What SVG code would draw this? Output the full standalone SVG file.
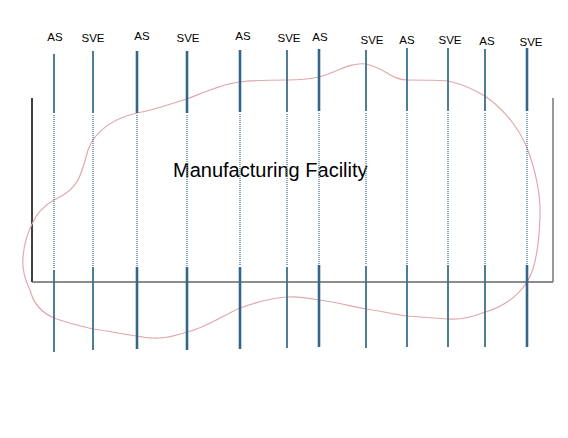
<svg xmlns="http://www.w3.org/2000/svg" width="568" height="438" viewBox="0 0 568 438">
<style>
.lbl{font-family:"Liberation Sans",Arial,sans-serif;font-size:11.5px;fill:#000;text-anchor:middle}
.title{font-family:"Liberation Sans",Arial,sans-serif;font-size:20px;fill:#000}
.s{stroke:#3c6e8c;stroke-width:1.8;fill:none}
.t{stroke:#35668a;stroke-width:2.6;fill:none}
.d{stroke:#5a88a3;stroke-width:1.5;stroke-dasharray:1 1;fill:none}
</style>
<rect width="568" height="438" fill="#fff"/>
<g id="building">
<line x1="32" y1="98" x2="32" y2="282" stroke="#000" stroke-width="1.5"/>
<line x1="32" y1="282" x2="553" y2="282" stroke="#666" stroke-width="1.5"/>
<line x1="553" y1="98" x2="553" y2="282" stroke="#777" stroke-width="1.5"/>
<text class="title" x="173" y="177">Manufacturing Facility</text>
</g>
<g id="plume">
<path d="M88,150 C95,130 115,118 137,113 C155,110 170,104 187,99 C205,92 222,84 240,82 C255,80 272,80 287,80 C300,80 310,79 319,77 C335,73 350,62 366,64 C385,68 392,80 407,80 C420,80 435,80 448,81 C462,84 475,90 485,96 C505,110 520,130 527,148 C535,168 541,195 540,217 C539,245 535,270 527,282 C517,298 500,308 485,312 C470,318 460,320 448,319 C435,318 420,317 407,316 C393,314 380,311 366,309 C350,306 335,302 319,300 C308,298 297,296 287,297 C270,298 255,303 240,308 C222,316 205,328 187,332 C175,336 163,339 153,338 C148,338 142,337 137,336 C122,334 108,331 93,329 C80,326 65,322 54,318 C40,312 33,302 30,290 C25,280 22,268 23,257 C24,245 28,232 32,224 C37,212 45,205 54,200 C65,195 74,188 78,180 C83,170 85,160 88,150 Z" fill="none" stroke="#e0a8ad" stroke-width="1.2"/>
</g>
<g id="well-1"><text class="lbl" x="55" y="41">AS</text><line class="s" x1="54" y1="54" x2="54" y2="113"/><line class="d" x1="54" y1="115" x2="54" y2="268"/><line class="s" x1="54" y1="270" x2="54" y2="352"/></g>
<g id="well-2"><text class="lbl" x="93" y="42">SVE</text><line class="s" x1="93" y1="51" x2="93" y2="113"/><line class="d" x1="93" y1="115" x2="93" y2="266"/><line class="s" x1="93" y1="267" x2="93" y2="350"/></g>
<g id="well-3"><text class="lbl" x="142" y="40">AS</text><line class="t" x1="137" y1="51" x2="137" y2="113"/><line class="d" x1="137" y1="115" x2="137" y2="266"/><line class="t" x1="137" y1="267" x2="137" y2="349"/></g>
<g id="well-4"><text class="lbl" x="188" y="42">SVE</text><line class="t" x1="187" y1="51" x2="187" y2="113"/><line class="d" x1="187" y1="115" x2="187" y2="266"/><line class="t" x1="187" y1="267" x2="187" y2="350"/></g>
<g id="well-5"><text class="lbl" x="243" y="40">AS</text><line class="t" x1="240" y1="50" x2="240" y2="112"/><line class="d" x1="240" y1="114" x2="240" y2="266"/><line class="t" x1="240" y1="267" x2="240" y2="349"/></g>
<g id="well-6"><text class="lbl" x="289" y="42">SVE</text><line class="s" x1="287" y1="50" x2="287" y2="112"/><line class="d" x1="287" y1="114" x2="287" y2="266"/><line class="s" x1="287" y1="267" x2="287" y2="348"/></g>
<g id="well-7"><text class="lbl" x="320" y="41">AS</text><line class="t" x1="319" y1="49" x2="319" y2="111"/><line class="d" x1="319" y1="113" x2="319" y2="264"/><line class="t" x1="319" y1="265" x2="319" y2="347"/></g>
<g id="well-8"><text class="lbl" x="372" y="44">SVE</text><line class="s" x1="366" y1="50" x2="366" y2="111"/><line class="d" x1="366" y1="113" x2="366" y2="265"/><line class="s" x1="366" y1="266" x2="366" y2="348"/></g>
<g id="well-9"><text class="lbl" x="407" y="44">AS</text><line class="s" x1="407" y1="48" x2="407" y2="111"/><line class="d" x1="407" y1="113" x2="407" y2="264"/><line class="s" x1="407" y1="265" x2="407" y2="347"/></g>
<g id="well-10"><text class="lbl" x="450" y="44">SVE</text><line class="s" x1="448" y1="48" x2="448" y2="111"/><line class="d" x1="448" y1="113" x2="448" y2="264"/><line class="s" x1="448" y1="265" x2="448" y2="347"/></g>
<g id="well-11"><text class="lbl" x="487" y="45">AS</text><line class="s" x1="485" y1="49" x2="485" y2="111"/><line class="d" x1="485" y1="113" x2="485" y2="264"/><line class="s" x1="485" y1="265" x2="485" y2="347"/></g>
<g id="well-12"><text class="lbl" x="531" y="46">SVE</text><line class="t" x1="527" y1="48" x2="527" y2="111"/><line class="d" x1="527" y1="113" x2="527" y2="264"/><line class="t" x1="527" y1="265" x2="527" y2="347"/></g>
</svg>
